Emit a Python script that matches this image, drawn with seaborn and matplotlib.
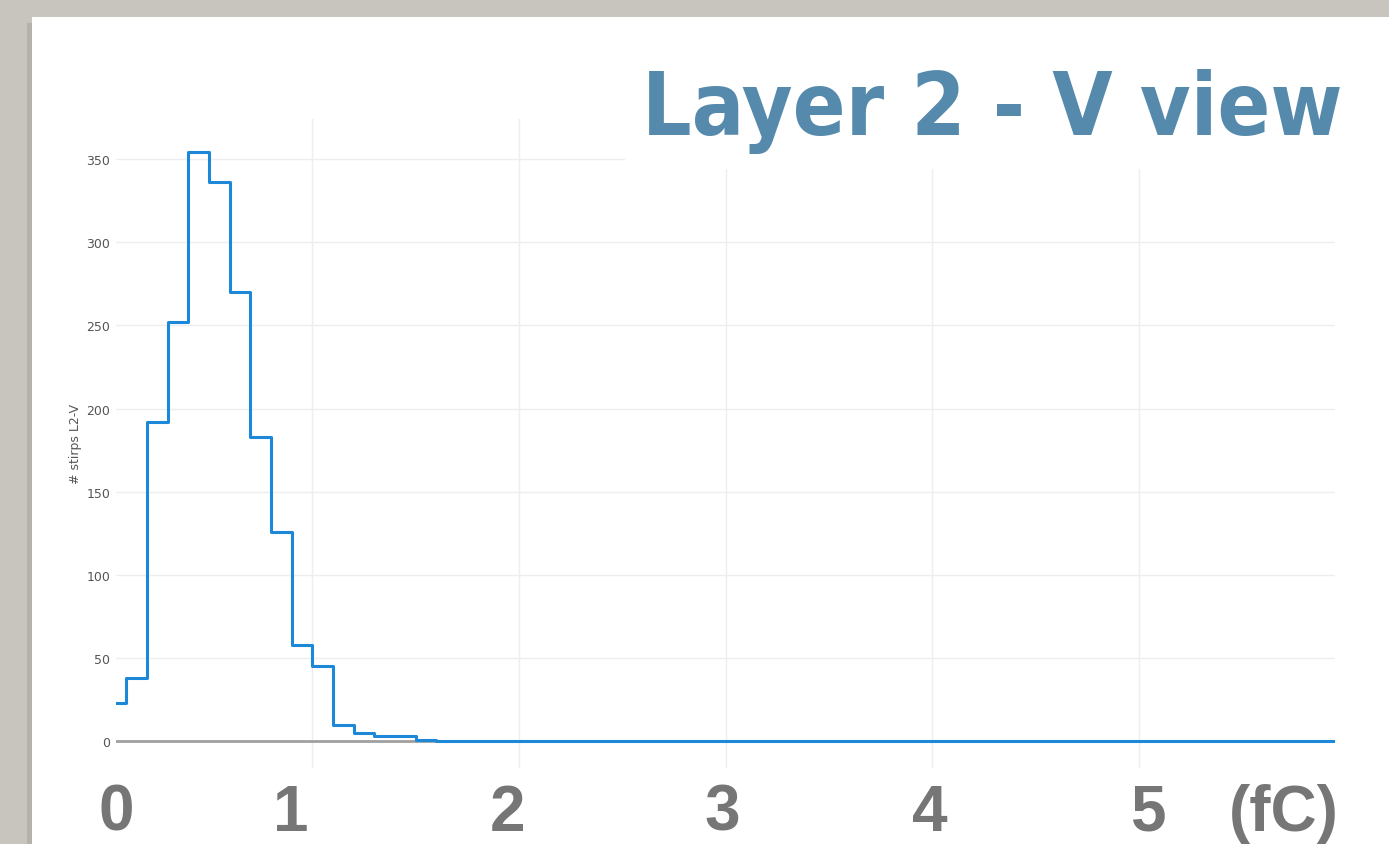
import numpy as np
import pandas as pd
import matplotlib
matplotlib.use('Agg')
import matplotlib.pyplot as plt
from matplotlib.patches import Rectangle
import seaborn as sns

# strip charge histogram, 0.1 fC bins from 0 to 6 fC
counts_peak = [23, 38, 192, 252, 354, 336, 270, 183, 126, 58, 45, 10, 5, 3, 3, 1]
counts_tail = [0] * 44
counts = counts_peak + counts_tail
edges = np.round(np.arange(0, 6.0001, 0.1), 2)
centers = (edges[:-1] + edges[1:]) / 2

big_labels = ['0', '1', '2', '3', '4', '5', '(fC)']
big_label_px = [116, 291, 508, 722, 930, 1148, 1284]
title = 'Layer 2 - V view'
ylabel = '# stirps L2-V'

df = pd.DataFrame({'charge': centers, 'n': counts})

W, H = 1389, 845
sns.set_theme(style='white')
fig = plt.figure(figsize=(W / 100, H / 100), dpi=100)
fig.patch.set_facecolor('#c8c5bf')

# white slide panel with a soft shadow
fig.patches.append(Rectangle((27 / W, 0), 1, 1 - 24 / H, transform=fig.transFigure,
                             facecolor='#a9a6a0', edgecolor='none', zorder=-2, alpha=0.6))
fig.patches.append(Rectangle((32 / W, 0), 1, 1 - 18 / H, transform=fig.transFigure,
                             facecolor='white', edgecolor='none', zorder=-1))

ax = fig.add_axes([116 / W, (H - 769) / H, (1335 - 116) / W, (769 - 120) / H])
ax.set_facecolor('white')

ax.axhline(0, color='#a0a0a0', lw=2, zorder=1)
# list, not ndarray: seaborn compares bins to "auto" when weights are given
sns.histplot(data=df, x='charge', weights='n', bins=edges.tolist(), element='step',
             fill=False, color='#1e88d8', linewidth=2.2, ax=ax, zorder=3)

ax.set_xlim(0.05, 5.95)
ax.set_ylim(-16, 374)
ax.set_xticks([1, 2, 3, 4, 5])
ax.set_xticklabels([])
ax.set_yticks(range(0, 351, 50))
ax.tick_params(axis='y', labelsize=9, colors='#555555', length=0, pad=4)
ax.tick_params(axis='x', length=0)
ax.grid(True, color='#eeeeee', lw=1)
for s in ax.spines.values():
    s.set_visible(False)
ax.set_xlabel('')
ax.set_ylabel(ylabel, fontsize=9, color='#555555', labelpad=3)

# white title box covering the upper right of the plot
fig.patches.append(Rectangle((625 / W, (H - 170) / H), 1, (170 - 18) / H,
                             transform=fig.transFigure,
                             facecolor='white', edgecolor='none', zorder=5))
t = fig.text(1343 / W, (H - 135) / H, title, ha='right', va='baseline', fontsize=81,
             fontweight='bold', fontstretch='condensed', color='#558aad',
             family=['Liberation Sans Narrow', 'DejaVu Sans'], zorder=6)
# fit the title to the reference width (643..1343 px)
renderer = fig.canvas.get_renderer()
w = t.get_window_extent(renderer).width
if w > 700:
    t.set_fontsize(81 * 700 / w)

for lab, px in zip(big_labels, big_label_px):
    fig.text(px / W, 1 / H, lab, ha='center', va='bottom', fontsize=46,
             fontweight='bold', color='#767676',
             family=['Liberation Sans', 'DejaVu Sans'], zorder=6)

fig.savefig('out.png', dpi=100, facecolor=fig.get_facecolor())
